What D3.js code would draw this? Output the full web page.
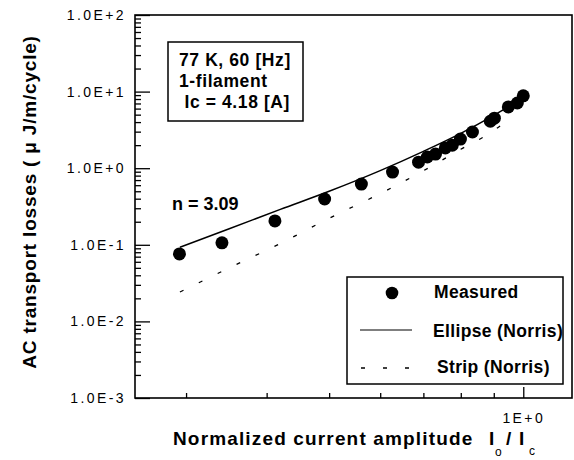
<!DOCTYPE html>
<html>
<head>
<meta charset="utf-8">
<script src="https://cdn.jsdelivr.net/npm/d3@7"></script>
<style>
  body { margin: 0; background: #fff; }
  svg text { font-family: "Liberation Sans", Arial, sans-serif; fill: #000; }
</style>
</head>
<body>
<div id="vizContainer"></div>
<script>
// measured points
const measuredX = [0.293, 0.341, 0.412, 0.492, 0.561, 0.627, 0.688, 0.710, 0.731, 0.757, 0.776, 0.799, 0.834, 0.889, 0.902, 0.948, 0.979, 1.0];
const measuredY = [0.076, 0.106, 0.205, 0.396, 0.62, 0.89, 1.2, 1.4, 1.53, 1.84, 2.0, 2.4, 2.97, 4.1, 4.5, 6.3, 7.1, 8.8];

// Norris curves
const ellipseX = [0.2935, 0.35, 0.42, 0.5, 0.6, 0.7, 0.8, 0.9, 0.95, 1.0];
const ellipseY = [0.093, 0.162, 0.29, 0.50, 0.93, 1.66, 2.85, 4.9, 6.4, 8.9];
const stripX = [0.2935, 0.35, 0.42, 0.5, 0.6, 0.7, 0.8, 0.9, 0.95];
const stripY = [0.0242, 0.0499, 0.104, 0.222, 0.466, 0.925, 1.765, 3.10, 4.39];

const yTickValues = [1e-3, 1e-2, 1e-1, 1e0, 1e1, 1e2];
const yTickLabels = ["1.0E-3", "1.0E-2", "1.0E-1", "1.0E+0", "1.0E+1", "1.0E+2"];
const xMinorTicks = [0.3, 0.4, 0.5, 0.6, 0.7, 0.8, 0.9];
const xTickValues = [1.0];
const xTickLabels = ["1E+0"];

const infoLines = ["77 K, 60 [Hz]", "1-filament", " Ic = 4.18 [A]"];
const legendLabels = ["Measured", "Ellipse (Norris)", "Strip (Norris)"];

const width = 574;
const height = 460;
const plotL = 135, plotR = 572, plotT = 15, plotB = 398;

const svg = d3.select("#vizContainer")
  .append("svg")
  .attr("width", width)
  .attr("height", height);

const x = d3.scaleLog().domain([0.25, 1.19]).range([plotL, plotR]);
const y = d3.scaleLog().domain([1e-3, 1e2]).range([plotB, plotT]);

// minor y ticks 2..9 per decade
const yMinor = [];
for (let e = -3; e < 2; e++) {
  for (let k = 2; k <= 9; k++) yMinor.push(k * Math.pow(10, e));
}

svg.append("g")
  .attr("transform", `translate(${plotL},0)`)
  .call(d3.axisLeft(y).tickValues(yTickValues).tickSize(-15).tickPadding(9)
    .tickFormat((d, i) => yTickLabels[i]));
svg.append("g")
  .attr("transform", `translate(${plotL},0)`)
  .call(d3.axisLeft(y).tickValues(yMinor).tickSize(-6).tickFormat(""));

svg.append("g")
  .attr("transform", `translate(0,${plotB})`)
  .call(d3.axisBottom(x).tickValues(xTickValues).tickSize(-11).tickPadding(15)
    .tickFormat((d, i) => xTickLabels[i]));
svg.append("g")
  .attr("transform", `translate(0,${plotB})`)
  .call(d3.axisBottom(x).tickValues(xMinorTicks).tickSize(-5).tickFormat(""));

svg.selectAll(".domain").remove();
svg.selectAll(".tick line").attr("stroke", "#000").attr("stroke-width", 1.3);
svg.selectAll(".tick text")
  .attr("font-size", 14)
  .attr("letter-spacing", "2.4px")
  .style("font-family", "'Liberation Sans', Arial, sans-serif");

// frame
svg.append("rect")
  .attr("x", plotL).attr("y", plotT)
  .attr("width", plotR - plotL).attr("height", plotB - plotT)
  .attr("fill", "none").attr("stroke", "#000").attr("stroke-width", 1.6);

// curves
const line = d3.line()
  .x(d => x(d[0]))
  .y(d => y(d[1]))
  .curve(d3.curveMonotoneX);

svg.append("path")
  .datum(ellipseX.map((v, i) => [v, ellipseY[i]]))
  .attr("d", line)
  .attr("fill", "none").attr("stroke", "#000").attr("stroke-width", 1.5);

svg.append("path")
  .datum(stripX.map((v, i) => [v, stripY[i]]))
  .attr("d", line)
  .attr("fill", "none").attr("stroke", "#000").attr("stroke-width", 1.3)
  .attr("stroke-dasharray", "4,17");

svg.selectAll(".pt")
  .data(measuredX.map((v, i) => [v, measuredY[i]]))
  .enter()
  .append("circle")
  .attr("cx", d => x(d[0]))
  .attr("cy", d => y(d[1]))
  .attr("r", 6.5)
  .attr("fill", "#000");

// annotation box
svg.append("rect")
  .attr("x", 168).attr("y", 42).attr("width", 135).attr("height", 79)
  .attr("fill", "#fff").attr("stroke", "#000").attr("stroke-width", 1.5);
svg.selectAll(".info")
  .data(infoLines)
  .enter()
  .append("text")
  .attr("x", 179)
  .attr("y", (d, i) => 66 + i * 21)
  .attr("font-size", 17.5)
  .attr("font-weight", "bold")
  .attr("letter-spacing", "0.6px")
  .style("white-space", "pre")
  .text(d => d);

svg.append("text")
  .attr("x", 172).attr("y", 210)
  .attr("font-size", 18).attr("font-weight", "bold")
  .text("n = 3.09");

// legend
svg.append("rect")
  .attr("x", 347).attr("y", 277).attr("width", 216).attr("height", 107)
  .attr("fill", "#fff").attr("stroke", "#000").attr("stroke-width", 1.5);
svg.append("circle").attr("cx", 392).attr("cy", 293).attr("r", 6.3).attr("fill", "#000");
svg.append("line").attr("x1", 360).attr("x2", 412).attr("y1", 330).attr("y2", 330)
  .attr("stroke", "#000").attr("stroke-width", 1.2);
svg.append("line").attr("x1", 361).attr("x2", 410).attr("y1", 368).attr("y2", 368)
  .attr("stroke", "#000").attr("stroke-width", 1.3).attr("stroke-dasharray", "4,18");
const legendPos = [[434, 298], [433, 337], [437, 373]];
svg.selectAll(".leg")
  .data(legendLabels)
  .enter()
  .append("text")
  .attr("x", (d, i) => legendPos[i][0])
  .attr("y", (d, i) => legendPos[i][1])
  .attr("font-size", 17.5)
  .attr("font-weight", "bold")
  .attr("letter-spacing", "0.35px")
  .text(d => d);

// axis titles
svg.append("text")
  .attr("transform", "translate(36,202) rotate(-90)")
  .attr("text-anchor", "middle")
  .attr("font-size", 19).attr("font-weight", "bold")
  .attr("letter-spacing", "0.8px")
  .text("AC transport losses ( \u03bc J/m/cycle)");

svg.append("text")
  .attr("x", 173).attr("y", 445)
  .attr("font-size", 19).attr("font-weight", "bold")
  .attr("letter-spacing", "1.15px")
  .text("Normalized current amplitude");
svg.append("text").attr("x", 489).attr("y", 445)
  .attr("font-size", 19).attr("font-weight", "bold").text("I");
svg.append("text").attr("x", 495).attr("y", 456)
  .attr("font-size", 12).text("o");
svg.append("text").attr("x", 506).attr("y", 445)
  .attr("font-size", 19).attr("font-weight", "bold").text("/");
svg.append("text").attr("x", 519).attr("y", 445)
  .attr("font-size", 19).attr("font-weight", "bold").text("I");
svg.append("text").attr("x", 529).attr("y", 455)
  .attr("font-size", 12).text("c");
</script>
</body>
</html>
